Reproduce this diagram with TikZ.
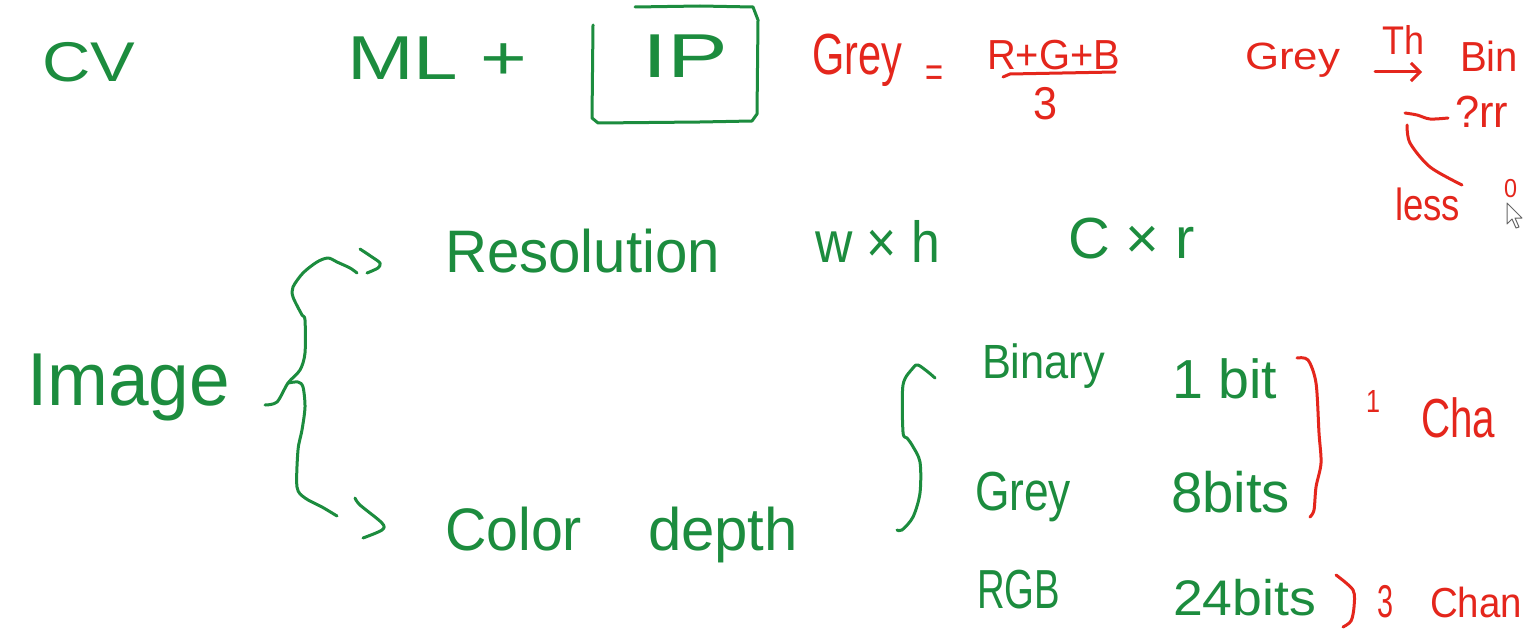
\documentclass[tikz,border=0pt]{standalone}
\usepackage{fontspec}
\setmainfont{Liberation Sans}
\usepackage{graphicx}
\usetikzlibrary{arrows.meta}
\definecolor{pg}{RGB}{28,140,62}
\definecolor{pr}{RGB}{228,38,28}
\newcommand{\hw}[3]{\fontsize{#1}{#1}\selectfont\resizebox{#2pt}{\height}{#3}}
\begin{document}
\begin{tikzpicture}[x=1pt,y=-1pt,
  txt/.style={inner sep=0pt,outer sep=0pt,anchor=base west},
  gtxt/.style={txt,text=pg},
  rtxt/.style={txt,text=pr},
  gpen/.style={draw=pg,line width=3pt,line cap=round,line join=round},
  rpen/.style={draw=pr,line width=3pt,line cap=round,line join=round}]
\useasboundingbox (0,0) rectangle (1538,631);
\fill[white] (0,0) rectangle (1538,631);

% ---- top row, green
\node[gtxt] (cv) at (42,82) {\hw{56}{93}{CV}};
\node[gtxt] (ml) at (347,80) {\hw{62}{180}{ML +}};
\node[gtxt] (ip) at (642,78) {\hw{62}{86}{IP}};
\draw[gpen] (593,25) -- (592,118) -- (598,123) -- (700,122) -- (752,121) -- (757,114) -- (758,20) -- (753,7) -- (700,6) -- (635,7);

% ---- top row, red formula
\node[rtxt] (grey1) at (812,75) {\hw{58}{90}{Grey}};
\node[rtxt] (eq) at (925,87) {\hw{42}{18}{=}};
\node[rtxt] (num) at (987,70) {\hw{42}{133}{R+G+B}};
\node[rtxt] (den) at (1033,120) {\hw{46}{24}{3}};
\draw[rpen] (1003,77) -- (1010,74) -- (1115,72);

% ---- top right, red
\node[rtxt] (grey2) at (1245,70) {\hw{38}{95}{Grey}};
\node[rtxt] (th) at (1382,55) {\hw{40}{42}{Th}};
\node[rtxt] (bin) at (1460,72) {\hw{42}{58}{Bin}};
\draw[rpen,-{Straight Barb[length=9pt,width=18pt,line width=3pt]}]
  ([xshift=35pt,yshift=-2pt]grey2.base east) -- ([xshift=-38pt]bin.base west);
\node[rtxt] (err) at (1455,128) {\hw{45}{53}{?rr}};
\draw[rpen] plot[smooth] coordinates {(1405,113) (1417,115) (1430,119) (1448,118)};
\draw[rpen] plot[smooth] coordinates {(1407,125) (1410,143) (1430,167) (1462,185)};
\node[rtxt] (less) at (1395,220) {\hw{45}{65}{less}};
\node[rtxt] (zero) at (1504,197) {\hw{26}{13}{0}};
\draw[black!60,fill=white,line width=1pt,line join=round]
  (1507,203) -- (1507,224) -- (1512,219) -- (1516,228) -- (1519,227) -- (1515,218) -- (1522,218) -- cycle;

% ---- Image and its brace
\node[gtxt] (img) at (27,405) {\hw{75}{203}{Image}};
\node[gtxt] (res) at (445,272) {\hw{60}{275}{Resolution}};
\node[gtxt] (wh) at (815,262) {\hw{58}{125}{w × h}};
\node[gtxt] (cr) at (1068,258) {\hw{58}{127}{C × r}};
\node[gtxt] (color) at (445,550) {\hw{60}{137}{Color}};
\node[gtxt] (depth) at (648,550) {\hw{60}{150}{depth}};

\draw[gpen] plot[smooth,tension=0.5] coordinates {(265,405) (277,402) (288,383) (300,370) (305,353) (305,320) (302,315) (293,297) (293,287) (303,273) (317,262) (328,258) (337,262) (350,268) (357,273)};
\draw[gpen] plot[smooth,tension=0.5] coordinates {(360,249) (372,257) (380,263) (378,268) (367,273)};
\draw[gpen] plot[smooth,tension=0.5] coordinates {(288,383) (298,382) (303,387) (305,407) (302,430) (298,450) (297,487) (305,498) (322,507) (337,516)};
\draw[gpen] plot[smooth,tension=0.5] coordinates {(355,498) (360,505) (382,523) (382,530) (363,538)};

% ---- colour depth table
\draw[gpen] plot[smooth,tension=0.5] coordinates {(935,378) (928,372) (918,365) (913,368) (903,385) (903,432) (907,438) (912,445) (920,462) (920,493) (913,517) (902,530) (897,530)};
\node[gtxt] (binary) at (982,378) {\hw{48}{123}{Binary}};
\node[gtxt] (onebit) at (1172,398) {\hw{55}{105}{1 bit}};
\node[gtxt] (grey3) at (975,510) {\hw{55}{96}{Grey}};
\node[gtxt] (eightbits) at (1171,512) {\hw{57}{119}{8bits}};
\node[gtxt] (rgb) at (977,608) {\hw{55}{83}{RGB}};
\node[gtxt] (tfbits) at (1173,615) {\hw{50}{143}{24bits}};

% ---- channels, red
\draw[rpen] plot[smooth,tension=0.5] coordinates {(1297,358) (1308,360) (1316,383) (1319,433) (1321,463) (1316,487) (1314,510) (1310,517)};
\node[rtxt] (one) at (1366,412) {\hw{32}{14}{1}};
\node[rtxt] (cha) at (1421,437) {\hw{55}{74}{Cha}};
\draw[rpen] plot[smooth,tension=0.5] coordinates {(1336,575) (1353,590) (1354,607) (1351,621) (1343,627)};
\node[rtxt] (three) at (1377,617) {\hw{46}{16}{3}};
\node[rtxt] (chan) at (1430,617) {\hw{42}{92}{Chan}};
\end{tikzpicture}
\end{document}
